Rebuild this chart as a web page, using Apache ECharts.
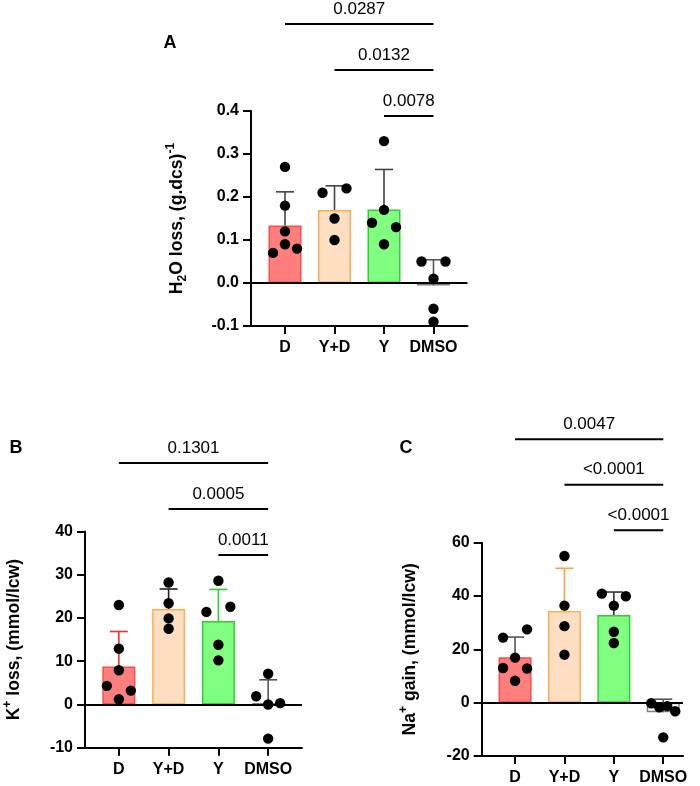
<!DOCTYPE html>
<html><head><meta charset="utf-8">
<script src="https://cdn.jsdelivr.net/npm/echarts@6/dist/echarts.min.js"></script>
<style>html,body{margin:0;padding:0;background:#fff}#c{width:700px;height:786px}</style>
</head><body><div id="c"></div>
<script>
// ---------- data ----------
const categories = ['D', 'Y+D', 'Y', 'DMSO'];

// Panel A : H2O loss, (g.dcs)^-1
const aMean = [0.134, 0.170, 0.171, -0.006];
const aSD = [0.078, 0.056, 0.093, 0.060];
const aPtsD = [0.27, 0.18, 0.12, 0.07, 0.09, 0.08];
const aPtsYD = [0.21, 0.22, 0.15, 0.10];
const aPtsY = [0.33, 0.17, 0.14, 0.13, 0.09];
const aPtsDMSO = [0.05, 0.05, 0.01, -0.06, -0.09];
const aPairs = [[2, 3], [1, 3], [0, 3]];
const aPvals = ['0.0078', '0.0132', '0.0287'];

// Panel B : K+ loss, (mmol/lcw)
const bMean = [8.77, 22.1, 19.3, 0.3];
const bSD = [8.1, 4.6, 7.3, 5.4];
const bPtsD = [23.0, 12.9, 7.9, 4.3, 3.2, 1.2];
const bPtsYD = [28.2, 23.4, 19.9, 17.5];
const bPtsY = [28.6, 21.4, 22.6, 13.8, 10.2];
const bPtsDMSO = [7.1, 1.9, 0.0, 0.3, -7.9];
const bPairs = [[2, 3], [1, 3], [0, 3]];
const bPvals = ['0.0011', '0.0005', '0.1301'];

// Panel C : Na+ gain, (mmol/lcw)
const cMean = [17.0, 34.4, 32.9, -3.6];
const cSD = [7.6, 16.0, 8.6, 4.9];
const cPtsD = [24.4, 27.5, 16.9, 13.0, 12.8, 8.2];
const cPtsYD = [55.0, 36.4, 28.7, 18.0];
const cPtsY = [40.9, 39.9, 36.4, 26.6, 22.4];
const cPtsDMSO = [-0.2, -1.7, -1.3, -3.2, -13.0];
const cPairs = [[2, 3], [1, 3], [0, 3]];
const cPvals = ['<0.0001', '<0.0001', '0.0047'];

// ---------- styles ----------
const FONT = 'Liberation Sans, Arial, sans-serif';
const barFill = ['#FF7F7F', '#FFDEC2', '#80FF80', '#FFFFFF'];
const barBorder = ['#FF4A4A', '#FFAE55', '#33CC33', '#7F7F7F'];
const DOT_R = 5.2, SPREAD = 12, ROW_PX = 9.5;
const NAME_FS = 17.6;

const panels = [
  { name: '{b|H}{sub|2}{b|O loss, (g.dcs)}{sup|-1}', mean: aMean, sd: aSD,
    pts: [aPtsD, aPtsYD, aPtsY, aPtsDMSO], pairs: aPairs, pvals: aPvals,
    y: [-0.1, 0.4, 0.1], dec: 1, grid: { left: 251, top: 111, width: 216.5, height: 215 },
    x: [-0.687, 3.687], err: ['#444', '#444', '#444', '#555'], brBase: 5, brStep: 46, nameGap: 62 },
  { name: '{b|K}{sup|+}{b| loss, (mmol/lcw)}', mean: bMean, sd: bSD,
    pts: [bPtsD, bPtsYD, bPtsY, bPtsDMSO], pairs: bPairs, pvals: bPvals,
    y: [-10, 40, 10], dec: 0, grid: { left: 85, top: 531.5, width: 217, height: 216.2 },
    x: [-0.68, 3.68], err: ['#FF2A2A', '#222', '#33CC33', '#555'], brBase: 23.5, brStep: 46, nameGap: 59 },
  { name: '{b|Na}{sup|+}{b| gain, (mmol/lcw)}', mean: cMean, sd: cSD,
    pts: [cPtsD, cPtsYD, cPtsY, cPtsDMSO], pairs: cPairs, pvals: cPvals,
    y: [-20, 60, 20], dec: 0, grid: { left: 481.7, top: 542.7, width: 201.3, height: 214.6 },
    x: [-0.675, 3.4], err: ['#555', '#FFA040', '#333', '#555'], brBase: -12.4, brStep: 45.5, nameGap: 60 }
];

const rich = {
  b: { fontSize: NAME_FS, fontWeight: 'bold', fontFamily: FONT, color: '#000', lineHeight: 24 },
  sub: { fontSize: 12, fontWeight: 'bold', fontFamily: FONT, color: '#000', lineHeight: 10, verticalAlign: 'bottom' },
  sup: { fontSize: 12, fontWeight: 'bold', fontFamily: FONT, color: '#000', lineHeight: 10, verticalAlign: 'top' }
};

const grids = [], xAxes = [], yAxes = [], series = [];
panels.forEach((P, pi) => {
  grids.push(P.grid);
  xAxes.push({
    type: 'value', gridIndex: pi, min: P.x[0], max: P.x[1],
    axisLine: { onZero: false, lineStyle: { color: '#000', width: 2 } },
    axisTick: { customValues: [0, 1, 2, 3], length: 8, lineStyle: { color: '#000', width: 2 } },
    axisLabel: { customValues: [0, 1, 2, 3], formatter: v => categories[Math.round(v)],
      fontFamily: FONT, fontWeight: 'bold', fontSize: 16, color: '#000', margin: 14 },
    splitLine: { show: false }
  });
  yAxes.push({
    type: 'value', gridIndex: pi, min: P.y[0], max: P.y[1], interval: P.y[2],
    name: P.name, nameLocation: 'middle', nameGap: P.nameGap, nameRotate: 90,
    nameTextStyle: { rich: rich, fontFamily: FONT, fontSize: NAME_FS, fontWeight: 'bold', color: '#000' },
    axisLine: { show: true, onZero: false, lineStyle: { color: '#000', width: 2 } },
    axisTick: { show: true, length: 8, lineStyle: { color: '#000', width: 2 } },
    axisLabel: { formatter: v => v.toFixed(P.dec), fontFamily: FONT, fontWeight: 'bold', fontSize: 16, color: '#000', margin: 12 },
    splitLine: { show: false }
  });
  // bars
  series.push({
    type: 'bar', xAxisIndex: pi, yAxisIndex: pi, barWidth: 33, z: 2,
    data: P.mean.map((m, i) => ({ value: [i, m], itemStyle: { color: barFill[i], borderColor: barBorder[i], borderWidth: 1.5 } })),
    markLine: { silent: true, symbol: 'none', z: 3, label: { show: false },
      lineStyle: { color: '#000', width: 2, type: 'solid' }, data: [{ yAxis: 0 }] }
  });
  // error bars (mean + SD, upward)
  series.push({
    type: 'custom', xAxisIndex: pi, yAxisIndex: pi, z: 4,
    data: P.mean.map((m, i) => [i, m, P.sd[i]]),
    renderItem: (params, api) => {
      const i = api.value(0), m = api.value(1), s = api.value(2);
      const p1 = api.coord([i, m]), p2 = api.coord([i, m + s]);
      const st = { stroke: P.err[i], lineWidth: 1.6 };
      return { type: 'group', children: [
        { type: 'line', shape: { x1: p1[0], y1: p1[1], x2: p2[0], y2: p2[1] }, style: st },
        { type: 'line', shape: { x1: p2[0] - 9, y1: p2[1], x2: p2[0] + 9, y2: p2[1] }, style: st }
      ] };
    }
  });
  // dots (row-binned swarm)
  series.push({
    type: 'custom', xAxisIndex: pi, yAxisIndex: pi, z: 6,
    data: P.mean.map((m, i) => [i, m]),
    renderItem: (params, api) => {
      const gi = api.value(0);
      const vals = P.pts[gi];
      const pts = vals.map((v, j) => ({ j: j, v: v, p: api.coord([gi, v]) }));
      const sorted = pts.slice().sort((a, b) => b.v - a.v);
      const offs = new Array(vals.length).fill(0);
      let k = 0;
      while (k < sorted.length) {
        const start = sorted[k].p[1];
        const bin = [sorted[k]]; k++;
        while (k < sorted.length && Math.abs(sorted[k].p[1] - start) < ROW_PX) { bin.push(sorted[k]); k++; }
        bin.sort((a, b) => a.j - b.j);
        const n = bin.length;
        bin.forEach((q, t) => { offs[q.j] = n === 1 ? 0 : -SPREAD + 2 * SPREAD * t / (n - 1); });
      }
      return { type: 'group', children: pts.map(q => ({
        type: 'circle', shape: { cx: q.p[0] + offs[q.j], cy: q.p[1], r: DOT_R }, style: { fill: '#000' } })) };
    }
  });
  // significance brackets
  series.push({
    type: 'custom', xAxisIndex: pi, yAxisIndex: pi, z: 5, clip: false,
    data: P.pairs.map((pr, k) => [k, P.y[1]]),
    renderItem: (params, api) => {
      const k = api.value(0);
      const pr = P.pairs[k];
      const top = api.coord([0, P.y[1]])[1];
      const xa = api.coord([pr[0], P.y[1]])[0], xb = api.coord([pr[1], P.y[1]])[0];
      const y = top + P.brBase - k * P.brStep;
      return { type: 'group', children: [
        { type: 'line', shape: { x1: xa, y1: y, x2: xb, y2: y }, style: { stroke: '#000', lineWidth: 2 } },
        { type: 'text', x: (xa + xb) / 2, y: y - 15, style: { text: P.pvals[k], fill: '#000',
          font: '17px ' + FONT, textAlign: 'center', textVerticalAlign: 'middle' } }
      ] };
    }
  });
});

const chart = echarts.init(document.getElementById('c'), null, { renderer: 'canvas' });
chart.setOption({
  animation: false,
  backgroundColor: '#fff',
  grid: grids, xAxis: xAxes, yAxis: yAxes, series: series,
  graphic: [
    { type: 'text', x: 170, y: 43, style: { text: 'A', font: 'bold 18px ' + FONT, fill: '#000', textAlign: 'center', textVerticalAlign: 'middle' } },
    { type: 'text', x: 16, y: 448, style: { text: 'B', font: 'bold 18px ' + FONT, fill: '#000', textAlign: 'center', textVerticalAlign: 'middle' } },
    { type: 'text', x: 406, y: 448, style: { text: 'C', font: 'bold 18px ' + FONT, fill: '#000', textAlign: 'center', textVerticalAlign: 'middle' } }
  ]
});
</script></body></html>
